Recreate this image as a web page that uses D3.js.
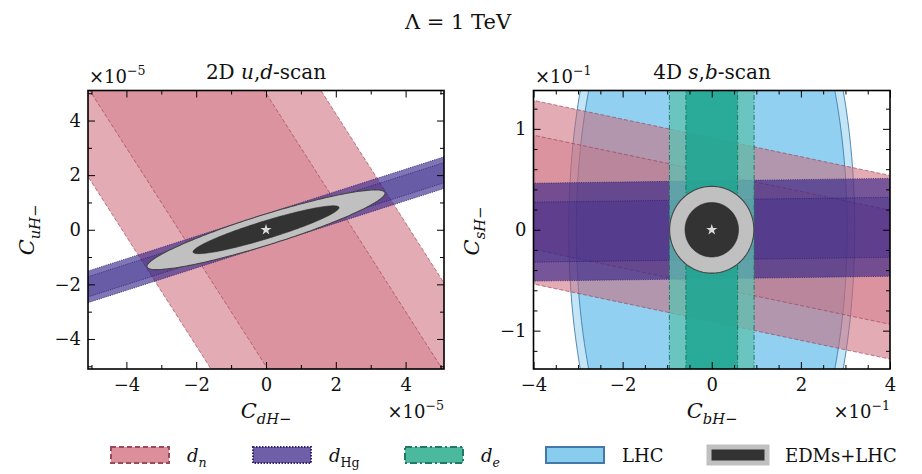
<!DOCTYPE html>
<html>
<head>
<meta charset="utf-8">
<script src="https://cdn.jsdelivr.net/npm/d3@7"></script>
<style>
  body { margin: 0; background: #fff; }
  svg { font-family: "DejaVu Serif", serif; }
</style>
</head>
<body>
<svg id="chart" width="922" height="474"></svg>
<script>
// ---------- data ----------
// left panel: 2D u,d-scan, axes in units of 1e-5
const udXTicks = [-4, -2, 0, 2, 4];
const udYTicks = [-4, -2, 0, 2, 4];
const udMinorTicks = [-5, -3, -1, 1, 3, 5];
const udDnSlope = -2.0;              // d_n band: y = slope*x +- w
const udDnWidths = [8.25, 5.0];      // outer, inner
const udHgSlope = 0.41;              // d_Hg band
const udHgWidths = [0.58, 0.37];
const udEdmMajor = [[3.41, 1.36], [2.09, 0.82]];     // semi-major vectors (outer, inner)
const udEdmMinor = [[0.13, -0.53], [0.075, -0.31]];  // semi-minor vectors

// right panel: 4D s,b-scan, axes in units of 1e-1
const sbXTicks = [-4, -2, 0, 2, 4];
const sbYTicks = [-1, 0, 1];
const sbXMinor = [-3.5, -3, -2.5, -1.5, -1, -0.5, 0.5, 1, 1.5, 2.5, 3, 3.5];
const sbYMinor = [-1.2, -0.8, -0.6, -0.4, -0.2, 0.2, 0.4, 0.6, 0.8, 1.2];
const sbDnSlope = -0.093;
const sbDnWidths = [0.91, 0.565];
const sbHgSlope = 0.006;
const sbHgWidths = [0.485, 0.297];
const sbDeWidths = [0.95, 0.58];                  // vertical d_e band half widths
const sbLhcRadii = [[3.21, 3.5], [3.04, 3.3]];    // LHC ellipses (rx, ry)
const sbEdmRadii = [[0.945, 0.43], [0.6, 0.27]];  // EDMs+LHC ellipses

const legendNames = ["dn", "dHg", "de", "LHC", "EDM"];

// ---------- styles ----------
const ST = {
  dn:  { fill: "#cc6677", op: [0.55, 0.33], stroke: "#9a3d50", dash: "4,2", sw: 0.8 },
  dHg: { fill: "#332288", op: [0.62, 0.3], stroke: "#2a1d6e", dash: "1,1.3", sw: 1 },
  de:  { fill: ["#5dc2b0", "#1fa590"], op: [0.75, 0.85], stroke: "#1d6e5c", dash: "5,2,1,2", sw: 0.9 },
  lhc: { fill: "#88ccee", op: [0.5, 0.85], stroke: "#3f7fae", sw: 0.9 },
  edm: { fill: ["#c0c0c0", "#333333"], stroke: "#333333" }
};

const svg = d3.select("#chart");
const fmt = d => d < 0 ? "\u2212" + Math.abs(d) : String(d);
const line = d3.line();

function mathText(g, x, y, parts, size, anchor, rot) {
  const t = g.append("text")
    .attr("x", x).attr("y", y)
    .attr("font-size", size)
    .attr("text-anchor", anchor || "start")
    .attr("fill", "#111");
  if (rot) t.attr("transform", `rotate(${rot},${x},${y})`);
  let cur = 0;
  parts.forEach(p => {
    const off = p.sub ? size * 0.28 : p.sup ? -size * 0.45 : 0;
    t.append("tspan")
      .attr("dy", off - cur)
      .attr("font-size", (p.sub || p.sup) ? size * 0.7 : size)
      .attr("font-style", p.i ? "italic" : "normal")
      .text(p.t);
    cur = off;
  });
  return t;
}

function makePanel(id, xDom, yDom, box) {
  const x = d3.scaleLinear().domain(xDom).range([box.x0, box.x1]);
  const y = d3.scaleLinear().domain(yDom).range([box.y1, box.y0]);
  svg.append("clipPath").attr("id", id)
    .append("rect")
    .attr("x", box.x0).attr("y", box.y0)
    .attr("width", box.x1 - box.x0).attr("height", box.y1 - box.y0);
  const plot = svg.append("g").attr("clip-path", `url(#${id})`);
  return { x, y, plot, box, xDom, yDom };
}

// band y = s*x +- w
function band(P, s, w, st, i) {
  const xs = [P.xDom[0] - 1, P.xDom[1] + 1];
  const up = xs.map(v => [P.x(v), P.y(s * v + w)]);
  const lo = xs.map(v => [P.x(v), P.y(s * v - w)]);
  P.plot.append("path")
    .attr("d", line(up.concat(lo.slice().reverse())) + "Z")
    .attr("fill", Array.isArray(st.fill) ? st.fill[i] : st.fill)
    .attr("fill-opacity", st.op[i]);
  [up, lo].forEach(pts => {
    P.plot.append("path").attr("d", line(pts))
      .attr("fill", "none").attr("stroke", st.stroke)
      .attr("stroke-width", st.sw).attr("stroke-dasharray", st.dash)
      .attr("stroke-opacity", 0.8);
  });
}

// vertical band |x| <= w
function vband(P, w, st, i) {
  const ys = [P.yDom[0] - 1, P.yDom[1] + 1];
  P.plot.append("rect")
    .attr("x", P.x(-w)).attr("width", P.x(w) - P.x(-w))
    .attr("y", P.y(ys[1])).attr("height", P.y(ys[0]) - P.y(ys[1]))
    .attr("fill", st.fill[i]).attr("fill-opacity", st.op[i]);
  [-w, w].forEach(v => {
    P.plot.append("path").attr("d", line(ys.map(u => [P.x(v), P.y(u)])))
      .attr("fill", "none").attr("stroke", st.stroke)
      .attr("stroke-width", st.sw).attr("stroke-dasharray", st.dash);
  });
}

// ellipse from semi-axis vectors in data units
function ellipse(P, a, b, fill, op, stroke, sw) {
  const pts = d3.range(0, 2 * Math.PI, Math.PI / 90).map(t => [
    P.x(a[0] * Math.cos(t) + b[0] * Math.sin(t)),
    P.y(a[1] * Math.cos(t) + b[1] * Math.sin(t))
  ]);
  P.plot.append("path")
    .attr("d", line(pts) + "Z")
    .attr("fill", fill).attr("fill-opacity", op)
    .attr("stroke", stroke || "none").attr("stroke-width", sw || 0);
}

function star(P) {
  P.plot.append("path")
    .attr("d", d3.symbol(d3.symbolStar, 38)())
    .attr("transform", `translate(${P.x(0)},${P.y(0)})`)
    .attr("fill", "#dcdcdc");
}

function axes(P, xMaj, xMin, yMaj, yMin) {
  const b = P.box;
  const add = (gen, tr, vals, size, labels, pad) => {
    const g = svg.append("g").attr("transform", tr)
      .call(gen.tickValues(vals).tickSize(size).tickPadding(pad || 3)
        .tickFormat(labels ? fmt : ""));
    g.select(".domain").remove();
    g.selectAll("line").attr("stroke", "#000").attr("stroke-width", 1);
    g.attr("font-family", "DejaVu Serif, serif").attr("font-size", 18);
    g.selectAll("text").attr("fill", "#111");
  };
  add(d3.axisBottom(P.x), `translate(0,${b.y1})`, xMaj, -7, true, 9);
  add(d3.axisBottom(P.x), `translate(0,${b.y1})`, xMin, -4, false);
  add(d3.axisTop(P.x), `translate(0,${b.y0})`, xMaj, -7, false);
  add(d3.axisTop(P.x), `translate(0,${b.y0})`, xMin, -4, false);
  add(d3.axisLeft(P.y), `translate(${b.x0},0)`, yMaj, -7, true, 7);
  add(d3.axisLeft(P.y), `translate(${b.x0},0)`, yMin, -4, false);
  add(d3.axisRight(P.y), `translate(${b.x1},0)`, yMaj, -7, false);
  add(d3.axisRight(P.y), `translate(${b.x1},0)`, yMin, -4, false);
  svg.append("rect")
    .attr("x", b.x0).attr("y", b.y0)
    .attr("width", b.x1 - b.x0).attr("height", b.y1 - b.y0)
    .attr("fill", "none").attr("stroke", "#000").attr("stroke-width", 1.6);
}

// ---------- left panel ----------
const L = makePanel("clipL", [-5.1, 5.1], [-5.1, 5.1], { x0: 88, x1: 444, y0: 90.5, y1: 369 });
udDnWidths.forEach((w, i) => band(L, udDnSlope, w, ST.dn, i));
udHgWidths.forEach((w, i) => band(L, udHgSlope, w, ST.dHg, i));
udEdmMajor.forEach((a, i) =>
  ellipse(L, a, udEdmMinor[i], ST.edm.fill[i], 1, i === 0 ? "#444" : "#2a2a2a", i === 0 ? 1.1 : 0.6));
star(L);
axes(L, udXTicks, udMinorTicks, udYTicks, udMinorTicks);

// ---------- right panel ----------
const R = makePanel("clipR", [-4, 4], [-1.38, 1.38], { x0: 533.5, x1: 890, y0: 90.5, y1: 369 });
sbLhcRadii.forEach((r, i) =>
  ellipse(R, [r[0], 0], [0, r[1]], ST.lhc.fill, ST.lhc.op[i], ST.lhc.stroke, ST.lhc.sw));
sbDnWidths.forEach((w, i) => band(R, sbDnSlope, w, ST.dn, i));
sbHgWidths.forEach((w, i) => band(R, sbHgSlope, w, ST.dHg, i));
sbDeWidths.forEach((w, i) => vband(R, w, ST.de, i));
sbEdmRadii.forEach((r, i) =>
  ellipse(R, [r[0], 0], [0, r[1]], ST.edm.fill[i], 1, i === 0 ? "#444" : "#2a2a2a", i === 0 ? 1.1 : 0.6));
star(R);
axes(R, sbXTicks, sbXMinor, sbYTicks, sbYMinor);

// ---------- texts ----------
mathText(svg, 458, 29, [{ t: "\u039B = 1 TeV" }], 21, "middle");

mathText(svg, 266, 79, [{ t: "2D " }, { t: "u", i: true }, { t: "," }, { t: "d", i: true }, { t: "-scan" }], 20, "middle");
mathText(svg, 712, 79, [{ t: "4D " }, { t: "s", i: true }, { t: "," }, { t: "b", i: true }, { t: "-scan" }], 20, "middle");

mathText(svg, 89, 83, [{ t: "\u00D710" }, { t: "\u22125", sup: true }], 18, "start");
mathText(svg, 444, 418, [{ t: "\u00D710" }, { t: "\u22125", sup: true }], 18, "end");
mathText(svg, 535, 83, [{ t: "\u00D710" }, { t: "\u22121", sup: true }], 18, "start");
mathText(svg, 890, 418, [{ t: "\u00D710" }, { t: "\u22121", sup: true }], 18, "end");

mathText(svg, 266, 418, [{ t: "C", i: true }, { t: "dH", i: true, sub: true }, { t: "\u2212", sub: true }], 21, "middle");
mathText(svg, 712, 418, [{ t: "C", i: true }, { t: "bH", i: true, sub: true }, { t: "\u2212", sub: true }], 21, "middle");
mathText(svg, 34, 230, [{ t: "C", i: true }, { t: "uH", i: true, sub: true }, { t: "\u2212", sub: true }], 21, "middle", -90);
mathText(svg, 479, 231, [{ t: "C", i: true }, { t: "sH", i: true, sub: true }, { t: "\u2212", sub: true }], 21, "middle", -90);

// ---------- legend ----------
const legendX = [111, 253, 405, 546, 709];
const legendLabels = [
  [{ t: "d", i: true }, { t: "n", i: true, sub: true }],
  [{ t: "d", i: true }, { t: "Hg", sub: true }],
  [{ t: "d", i: true }, { t: "e", i: true, sub: true }],
  [{ t: "LHC" }],
  [{ t: "EDMs+LHC" }]
];
const legendPatch = {
  dn:  { fill: "#dc8f9b", stroke: "#a34558", dash: "5,3", sw: 2 },
  dHg: { fill: "#6e5fa8", stroke: "#2f2270", dash: "1.5,1.5", sw: 2 },
  de:  { fill: "#4bb99e", stroke: "#1e7a62", dash: "7,3,2,3", sw: 2 },
  LHC: { fill: "#88ccee", stroke: "#4477aa", dash: null, sw: 2 },
  EDM: { fill: "#333333", stroke: "#c0c0c0", dash: null, sw: 5 }
};
const leg = svg.append("g");
legendNames.forEach((k, i) => {
  const p = legendPatch[k];
  leg.append("rect")
    .attr("x", legendX[i]).attr("y", 447)
    .attr("width", 58).attr("height", 16)
    .attr("fill", p.fill).attr("stroke", p.stroke)
    .attr("stroke-width", p.sw).attr("stroke-dasharray", p.dash);
  mathText(leg, legendX[i] + 76, 462, legendLabels[i], 18, "start");
});
</script>
</body>
</html>
